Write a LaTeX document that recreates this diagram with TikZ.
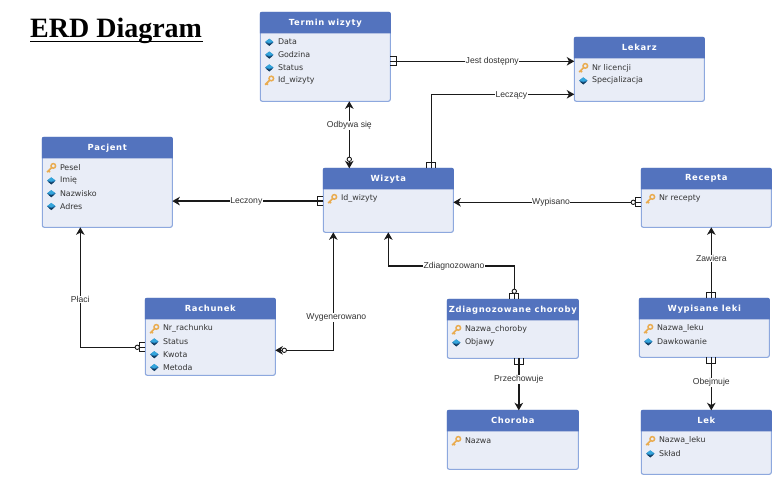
\documentclass[tikz,border=0pt]{standalone}
\usepackage{fontspec}
\setmainfont{DejaVu Sans}
\newfontfamily\labfont{Liberation Sans}
\newfontfamily\titlefont{Liberation Serif}
\usetikzlibrary{arrows.meta}
\definecolor{boxfill}{HTML}{E9EDF7}
\definecolor{boxline}{HTML}{8DA8DE}
\definecolor{headfill}{HTML}{5373BE}
\definecolor{ink}{HTML}{333333}
\definecolor{wire}{HTML}{1A1A1A}
\definecolor{keygold}{HTML}{E9AC50}
\definecolor{gemmid}{HTML}{1F6FA8}
\definecolor{gemtop}{HTML}{35A6DC}
\definecolor{gemlow}{HTML}{123A5C}
\tikzset{
  entitybox/.style={draw=boxline,fill=boxfill,line width=1.1pt,rounded corners=2pt,inner sep=0pt,outer sep=0pt,anchor=north west},
  headtext/.style={text=white,font=\fontsize{8.4}{10}\selectfont\bfseries\addfontfeature{LetterSpace=8},inner sep=0pt},
  attrtext/.style={text=ink,font=\fontsize{7.9}{10}\selectfont,inner sep=0pt,anchor=west},
  rel/.style={draw=wire,line width=1.6pt,>={Stealth[length=7.5pt,width=8.5pt,inset=2.2pt]}},
  lab/.style={fill=white,text=ink,font=\labfont\fontsize{8.6}{10}\selectfont,inner sep=.4pt},
  pics/crow/.style={code={\draw[wire,line width=1.3pt] (0,-4.5) -- (6,-4.5) -- (6,4.5) -- (0,4.5) (0,0) -- (6,0);}},
  pics/ring/.style={code={\draw[wire,fill=white,line width=.9pt] (#1,0) circle (2.2);}},
  pics/key/.style={code={
    \draw[draw=keygold,line width=1.5pt] (2,-2) circle (2.3);
    \draw[draw=keygold,line width=1.7pt] (.6,-.6) -- (-4.2,4.2) (-2.8,2.8) -- (-1.4,4.2);}},
  pics/gem/.style={code={
    \fill[gemmid] (-4.3,0) -- (0,-3.2) -- (4.3,0) -- (0,3.4) -- cycle;
    \fill[gemtop] (-3.8,-.5) -- (0,-3.4) -- (3.8,-.5) -- (0,1) -- cycle;
    \fill[gemlow] (-3.3,1) -- (0,3.8) -- (3.3,1) -- (0,1.9) -- cycle;}},
}
% #1 id, #2 x, #3 y, #4 w, #5 h, #6 title
\newcommand{\entity}[6]{%
  \node[entitybox,minimum width=#4pt,minimum height=#5pt] (#1) at (#2,#3) {};
  \fill[headfill,rounded corners=2pt] ([xshift=-.5pt,yshift=-21pt]#1.north west) [sharp corners] -- ([xshift=-.5pt,yshift=-21pt]#1.north west) [rounded corners=2pt] -- ([xshift=-.5pt,yshift=.5pt]#1.north west) -- ([xshift=.5pt,yshift=.5pt]#1.north east) [sharp corners] -- ([xshift=.5pt,yshift=-21pt]#1.north east) -- cycle;
  \node[headtext] (#1-title) at ([yshift=-10.5pt]#1.north) {#6};
}
\newcommand{\rowbase}{30.6}
% #1 id, #2 row, #3 icon, #4 text
\newcommand{\attr}[4]{%
  \pgfmathsetmacro{\rowoff}{\rowbase+12.8*#2}
  \pic at ([xshift=9pt,yshift=-\rowoff pt]#1.north west) {#3};
  \node[attrtext] (#1-a#2) at ([xshift=17.5pt,yshift=-\rowoff pt]#1.north west) {#4};
}
\begin{document}
\begin{tikzpicture}[x=1pt,y=-1pt]
\useasboundingbox (0,0) rectangle (779,482);
\node[anchor=west,inner sep=0pt,font=\titlefont\fontsize{28}{30}\selectfont\bfseries] (title) at (30,31) {\rlap{\raisebox{-4.5pt}{\rule{173pt}{1.6pt}}}ERD Diagram};

\entity{ter}{260.3}{12.3}{130}{89}{Termin wizyty}
\renewcommand{\rowbase}{29.8}
\attr{ter}{0}{gem}{Data}
\attr{ter}{1}{gem}{Godzina}
\attr{ter}{2}{gem}{Status}
\attr{ter}{3}{key}{Id\_wizyty}
\renewcommand{\rowbase}{30.6}

\entity{lek}{574.3}{37.3}{130}{64}{Lekarz}
\attr{lek}{0}{key}{Nr licencji}
\attr{lek}{1}{gem}{Specjalizacja}

\entity{pac}{42.3}{137.3}{130}{90}{Pacjent}
\attr{pac}{0}{key}{Pesel}
\attr{pac}{1}{gem}{Imię}
\attr{pac}{2}{gem}{Nazwisko}
\attr{pac}{3}{gem}{Adres}

\entity{wiz}{323.3}{168.3}{130}{64}{Wizyta}
\attr{wiz}{0}{key}{Id\_wizyty}

\entity{rec}{641.3}{168.3}{130}{59}{Recepta}
\attr{rec}{0}{key}{Nr recepty}

\entity{rac}{145.3}{298.3}{130}{77}{Rachunek}
\attr{rac}{0}{key}{Nr\_rachunku}
\attr{rac}{1}{gem}{Status}
\attr{rac}{2}{gem}{Kwota}
\attr{rac}{3}{gem}{Metoda}

\entity{zdi}{447.3}{299.3}{131}{59}{Zdiagnozowane choroby}
\attr{zdi}{0}{key}{Nazwa\_choroby}
\attr{zdi}{1}{gem}{Objawy}

\entity{wyp}{639.3}{298.3}{130}{59}{Wypisane leki}
\attr{wyp}{0}{key}{Nazwa\_leku}
\attr{wyp}{1}{gem}{Dawkowanie}

\entity{cho}{447.3}{410.3}{131}{59}{Choroba}
\attr{cho}{0}{key}{Nazwa}

\entity{lk}{641.3}{410.3}{130}{64}{Lek}
\attr{lk}{0}{key}{Nazwa\_leku}
\attr{lk}{1}{gem}{Skład}

% connectors
\draw[rel,->] ([yshift=-4.5pt]ter.east) -- ([yshift=-4.5pt]ter.east -| lek.west) node[lab,pos=.554] (l-jest) {Jest dostępny};
\pic at ([yshift=-4.5pt]ter.east) {crow};

\draw[rel,->] ([xshift=43pt]wiz.north) |- ([yshift=-25pt]lek.west) node[lab,pos=.78,yshift=-.8pt] (l-lecz) {Leczący};
\pic[rotate=90] at ([xshift=43pt]wiz.north) {crow};

\draw[rel,<->] ([xshift=-39pt]wiz.north) -- ([xshift=-39pt]wiz.north |- ter.south) node[lab,pos=.64] (l-odb) {Odbywa się};
\pic[rotate=90] at ([xshift=-39pt]wiz.north) {ring=9};

\draw[rel,->] ([yshift=-.8pt]wiz.west) -- ([yshift=-.8pt]wiz.west -| pac.east) node[lab,pos=.51] (l-leczony) {Leczony};
\pic[rotate=180] at ([yshift=-.8pt]wiz.west) {crow};

\draw[rel,->] ([yshift=-10.5pt]rac.west) -| ([xshift=-27pt]pac.south) node[lab,pos=.70] (l-placi) {Płaci};
\pic[rotate=180] at ([yshift=-10.5pt]rac.west) {crow};
\pic[rotate=180] at ([yshift=-10.5pt]rac.west) {ring=8};

\draw[rel,<->] ([yshift=-13.5pt]rac.east) -| ([xshift=-55pt]wiz.south) node[lab,pos=.64,xshift=3pt] (l-wyg) {Wygenerowano};
\pic at ([yshift=-13.5pt]rac.east) {ring=9};

\coordinate (zm) at (454,266);
\draw[rel,<-] (wiz.south) |- (zm) -| ([xshift=1.5pt]zdi.north);
\node[lab] (l-zdi) at (zm) {Zdiagnozowano};
\pic[rotate=90] at ([xshift=1.5pt]zdi.north) {crow};
\pic[rotate=90] at ([xshift=1.5pt]zdi.north) {ring=8};

\draw[rel,->] ([yshift=-4.5pt]rec.west) -- ([yshift=-4.5pt]rec.west -| wiz.east) node[lab,pos=.48] (l-wyp) {Wypisano};
\pic[rotate=180] at ([yshift=-4.5pt]rec.west) {crow};
\pic[rotate=180] at ([yshift=-4.5pt]rec.west) {ring=8};

\draw[rel,->] ([xshift=7pt]wyp.north) -- ([xshift=7pt]wyp.north |- rec.south) node[lab,pos=.56] (l-zaw) {Zawiera};
\pic[rotate=90] at ([xshift=7pt]wyp.north) {crow};

\draw[rel,->] ([xshift=6pt]zdi.south) -- ([xshift=6pt]zdi.south |- cho.north) node[lab,pos=.40] (l-prz) {Przechowuje};
\pic[rotate=-90] at ([xshift=6pt]zdi.south) {crow};

\draw[rel,->] ([xshift=7pt]wyp.south) -- ([xshift=7pt]wyp.south |- lk.north) node[lab,pos=.47] (l-obe) {Obejmuje};
\pic[rotate=-90] at ([xshift=7pt]wyp.south) {crow};
\end{tikzpicture}
\end{document}
